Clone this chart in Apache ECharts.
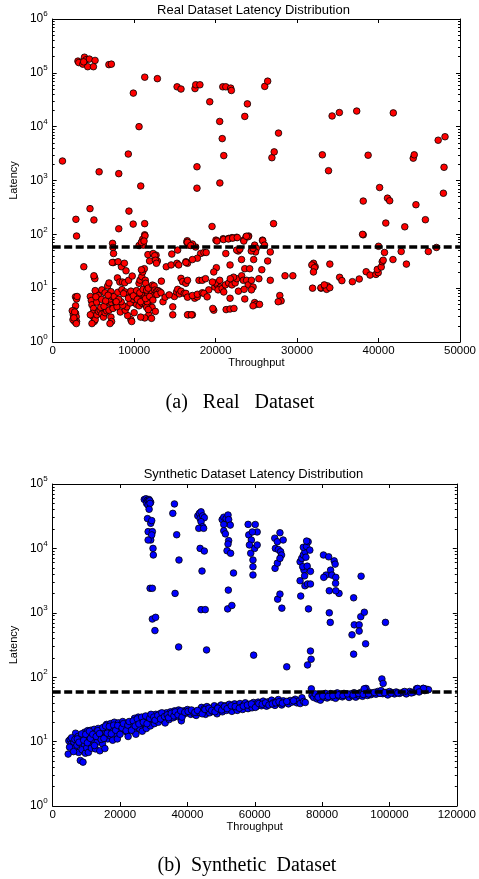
<!DOCTYPE html>
<html>
<head>
<meta charset="utf-8">
<script src="https://cdn.jsdelivr.net/npm/echarts@6/dist/echarts.min.js"></script>
<style>
html,body{margin:0;padding:0;background:#fff;}
#chart{width:479px;height:879px;}
</style>
</head>
<body>
<div id="chart"></div>
<script>
// ---------- Data (Throughput, Latency) ----------
const realHigh = [[3100,165000],[3200,155000],[3700,145000],[3900,195000],[4100,175000],[4300,130000],[4500,180000],[5000,130000],[5200,170000],[3800,160000],[6900,142000],[7200,145000],[9900,42000],[11300,83000],[12850,78000],[15270,55000],[15750,50000],[17470,51000],[17560,60000],[18070,60000],[19280,29000],[20880,55000],[21250,55000],[21850,52000],[21930,47000],[23900,26500],[26030,56000],[26390,70000],[20500,12500],[23580,15500],[34300,15800],[35190,18300],[37320,19500],[41810,18000]];
const realMid = [[1200,2300],[10600,10000],[9280,3100],[5700,1450],[8110,1340],[10810,790],[2850,190],[4580,300],[5060,185],[8110,127],[9360,270],[9880,155],[11290,158],[11290,98],[17710,1800],[17710,720],[20810,6000],[21000,2900],[20520,900],[19560,140],[26910,2650],[27190,3400],[27720,7600],[27110,158],[33100,3000],[33860,1520],[38720,2950],[38120,415],[40130,740],[41100,470],[41370,420],[40890,162],[38120,98],[43220,138],[44260,2600],[44380,3000],[44590,355],[45750,187],[47320,5600],[48160,6500],[48040,1760],[47960,580],[16510,76],[20040,78],[20930,83],[21600,84],[22010,87],[22570,88],[23460,78],[23740,91],[24060,93],[25750,78],[11050,81]];
const realLowLeft = [[2930,93],[3820,25],[7350,68],[7390,57],[7470,44],[7470,30],[7310,30],[5100,16],[5180,15],[5060,17],[2800,6.9],[2930,6.3],[2810,4.7],[2570,3.8],[2810,3.4],[2530,3.2],[2890,2.95],[2930,2.4],[2690,2.4],[2490,2.6],[2400,3.8],[2700,3.6],[2600,2.8],[2900,2.2],[3000,7.0],[4620,7.0],[4740,5.9],[4820,4.9],[5020,4.2],[4900,3.4],[4900,3.0],[5100,2.8],[5100,2.4],[5220,2.6],[4620,3.2],[4820,2.2],[5420,3.2],[5620,3.7],[5820,3.9],[6030,3.3],[6230,2.9],[6430,3.5],[6630,3.8],[6910,3.9],[7150,2.9],[7230,2.4],[7030,2.2],[5400,5.5],[5900,4.4],[6300,4.6],[7030,5.2],[7230,5.4],[7710,5.6],[5420,8],[5220,9],[5620,7.3],[6030,9.3],[6430,8.2],[6750,11],[6910,12.5],[7150,8.6],[7030,6.3],[7310,7],[7550,7],[7950,15.5],[8240,13],[8560,13],[8840,12.6],[9320,14],[9760,16.8],[8440,25],[8030,31],[8800,29],[9000,21],[6000,6.2],[6500,5.8],[7400,4.2],[7900,4.5],[8300,3.6],[5300,6.9],[6800,7.4],[8000,8.4],[8500,9.4]];
const realLowMid = [[8900,8.5],[9200,7.7],[9400,6.6],[9700,5.8],[10000,5.4],[10300,5.0],[10600,4.7],[10900,7.7],[11200,5.8],[11500,6.6],[11700,7.7],[12100,8.5],[12400,7.3],[12200,4.4],[12600,3.7],[11800,3.2],[11300,2.8],[10800,2.9],[10000,3.5],[9600,2.6],[9700,2.4],[9200,3.1],[8900,3.9],[9100,4.5],[9500,5.3],[9900,6.2],[10200,6.7],[10500,7.3],[10700,6.0],[11000,5.2],[11400,4.9],[11700,5.4],[12000,6.0],[8600,4.8],[8400,5.6],[8100,6.2],[7800,5.6],[8700,7.9],[9600,8.8],[10300,9.0],[10700,8.2],[11100,9.5],[10600,12.3],[10720,14.1],[10930,16.4],[11050,20],[11250,23],[10890,22],[11130,63],[11330,94],[10600,62],[10890,71],[11210,75],[11890,32],[11690,42],[12690,41],[12850,32],[11370,14],[11410,12.3],[11530,9.2],[11730,10],[11330,5.2],[11530,4.4],[11730,4.0],[11600,5.6],[12130,2.75],[12250,11.4],[12450,11],[12330,44],[12530,40],[12610,33],[12730,29],[12530,9.2],[12730,8.6],[12930,9.0],[13130,8.6],[13340,13.5],[13540,5.6],[13940,25],[14540,27],[14620,43],[14740,4.5],[14740,3.2],[14940,7],[15200,8.5],[15340,9.5],[15550,7.8],[15750,8.8],[15340,51],[15260,29],[15470,27],[15750,15.2],[15950,13.2],[16350,12.3],[16550,14],[16150,8],[16470,71],[16670,63],[16350,31],[16550,29],[16670,3.2],[17150,3.2],[17430,6.5],[17750,6.9],[17550,58],[17150,66],[9300,6.5],[9900,7.2],[10400,6.2],[10800,5.6],[11400,6.4],[11900,7.0],[12300,6.0],[12800,7.6],[13300,8.2],[13800,6.8],[14300,7.5]];
const realLowRight = [[16550,71],[16950,62],[20170,75],[20970,80],[21570,82],[22100,85],[22660,87],[23460,75],[23980,90],[23780,92],[25790,76],[26000,63],[24790,63],[25000,55],[24900,47],[26710,47],[26390,32],[25670,22],[24670,34],[24380,49],[24590,55],[22780,49],[22580,51],[22980,53],[23180,34],[23580,23],[24180,23],[21250,44],[21770,27],[20090,24],[19770,20],[18160,44],[18560,46],[17760,36],[17150,34],[16350,30],[18840,46],[16350,8],[16550,6.8],[17150,7.3],[17760,7.7],[18360,8.2],[17960,14],[18360,14],[18760,15],[19160,9.3],[18560,8],[18960,6.9],[19900,10.5],[20200,11.5],[20600,10.5],[20300,9.3],[20800,9.8],[21200,11.5],[21600,12.5],[22000,11.5],[22400,12.5],[22600,15],[22200,16],[21800,15],[23200,17],[23400,14],[23800,14],[24000,11.5],[24400,14],[24600,10.5],[24400,9.3],[20000,12.5],[21000,8.5],[22800,8.8],[23500,9.5],[19600,13],[20500,14],[26710,14],[25310,15],[28520,17],[29480,17],[32020,29],[32220,25],[31900,10],[32940,10],[27880,7.3],[28040,5.8],[27680,5.6],[24790,5.4],[24990,5.0],[25390,5.0],[24590,4.7],[21770,6.5],[23580,6.3],[21290,4.0],[21770,4.1],[22250,4.2],[19770,3.9],[19650,4.2],[16550,3.2],[17030,3.2],[38040,100],[31810,27],[32130,24],[32010,20],[32930,10.2],[33420,10.6],[33740,11],[33620,9.5],[34020,10.2],[33340,11.5],[34020,28],[35220,15.9],[35500,13.8],[36790,13.2],[37630,14.8],[38480,20.2],[38960,17.5],[39680,18],[39960,19.4],[39850,22.3],[40330,24.7],[40450,31],[40570,33],[40730,46],[40000,60],[41770,34],[42780,48],[43420,28],[46110,48],[47110,57]];

const synHigh = [[27200,57500],[27700,59000],[28100,56000],[28600,57500],[29100,52000],[27900,50000],[28400,54000],[28800,55000],[28300,47000],[28900,50000],[28630,40500],[28150,29000],[29110,24500],[29400,27000],[28340,18200],[29600,18200],[29110,13500],[29400,16200],[28340,13500],[29790,10000],[29880,7900],[28920,2400],[29590,2400],[29590,800],[30560,850],[30360,530],[35670,35000],[36150,49000],[36820,16300],[37500,6600],[36340,2000],[37400,295],[43090,32000],[43570,35000],[44050,37000],[43770,29000],[44530,32000],[45020,30000],[44050,26000],[44530,21700],[43380,20500],[44820,20500],[43770,10000],[45020,9100],[44340,4450],[44050,1120],[45300,1120],[45690,265],[50320,28000],[50800,30500],[51480,29000],[52060,33000],[52250,28000],[52730,23000],[50800,23500],[50800,18800],[51280,16800],[52250,13200],[52060,11700],[51770,9200],[52830,8400],[53690,4150],[52150,2250],[51960,1150],[53210,1300]];
const synHigh2 = [[58030,23600],[58220,16200],[58990,13500],[58800,8400],[59470,6600],[59470,5200],[59470,3870],[60150,23500],[60720,18000],[59960,10000],[60720,11300],[59280,18000],[58410,11300],[59670,220],[65940,14400],[66710,12700],[67480,17500],[66130,10000],[67000,9600],[67670,8900],[67960,7900],[68440,13500],[66030,4900],[66710,5900],[67480,7000],[66800,1630],[67480,1950],[68050,1180],[69500,145],[73460,6200],[73940,7000],[74420,7900],[74900,8900],[74420,10400],[75380,10700],[75860,12700],[76350,9400],[75190,7300],[74610,4600],[74230,5200],[75570,5300],[76540,4400],[73650,1820],[75960,1150],[73460,3150],[74900,2630],[75670,2800],[76540,2800],[76540,255],[76730,190],[75670,155],[74800,3750],[75400,13000],[80400,7900],[81940,7400],[83580,6400],[83870,5700],[82520,4600],[81170,3850],[82900,3850],[84060,3550],[84000,2870],[82130,2200],[85020,2000],[84060,2200],[80490,3550],[82130,1000],[82420,710],[91580,3700],[89360,1710],[89550,650],[91000,650],[91480,870],[92540,1020],[91000,520],[88880,455],[98810,710],[92920,330],[89360,228],[97750,94],[98130,80],[93030,67]];
const synBand = [[4600,6.4],[4800,10.3],[5200,10.8],[5500,9.2],[5800,8.5],[6000,11],[6300,9.8],[6500,7.9],[6800,13.5],[7000,10.5],[7200,8.8],[7500,12],[7700,6.8],[8000,9.5],[8200,5.1],[8400,11.5],[8700,7.5],[9000,4.8],[9100,12.8],[9300,9.2],[9500,14],[9700,6.6],[10000,11],[10100,8],[10400,14.8],[10600,6.8],[10800,12.2],[11000,9.5],[11300,15],[11500,7.9],[11700,13.5],[12000,10.6],[12300,15.5],[12500,12.4],[12700,7.7],[13000,14.2],[13200,9.8],[13500,16],[13700,11.8],[14000,7.2],[14200,13],[14500,15.2],[14800,9.2],[15000,12.6],[15300,16.8],[15500,7.8],[15800,14],[16000,18.5],[16300,11],[16600,15.5],[16900,12.5],[17200,19],[17500,16.2],[17800,10.5],[18000,14.8],[18300,20],[18600,17],[18900,13],[19200,11],[19500,19.5],[19800,16.5],[20100,14.5],[20400,18.5],[20800,20.5],[21200,15.5],[21600,17.8],[22000,14],[22400,12],[22800,16.5],[23200,20],[23600,18],[24000,14.5],[24300,23],[24700,13],[25000,19.5],[25400,24],[25800,16],[26200,21],[26600,14.5],[27000,23],[27400,18.5],[27800,16],[28200,24.5],[28600,21],[29000,17.5],[29400,25.5],[29800,22],[30200,19],[30600,26.5],[31000,23.5],[31400,20],[31800,27],[32200,24],[32600,22],[33000,26],[33400,19.5],[33800,28],[34200,25],[34600,22],[35000,29],[35400,26],[35800,23.5],[36200,30],[36600,27],[37000,24.5],[37400,31],[37800,28],[38200,21],[38600,26],[39000,30],[39500,27.5],[40000,31.5],[40500,28.5],[41000,26.5],[41500,30],[42000,27],[42600,25.5],[43200,28.5],[43800,31],[44200,34],[44600,29],[45000,32.5],[45400,26.5],[45800,35],[46200,30.5],[46600,28],[47000,33],[47500,29.5],[48000,36],[48400,31],[48800,27],[49200,34.5],[49600,31.5],[50000,37],[50400,29],[50800,33.5],[51200,36],[51600,30.5],[52000,34],[52400,38],[52800,32],[53200,29.5],[53600,35.5],[54000,38.5],[54400,33],[54800,30.5],[55200,36.5],[55600,39],[56000,34],[56400,31.5],[56800,37.5],[57200,40],[57600,35],[58000,32.5],[58400,38],[58800,36],[59200,33.5],[59600,40.5],[60000,37.5],[60500,35],[61000,41],[61500,38],[62000,36],[62500,42.5],[63000,39],[63500,35.5],[64000,41.5],[64500,38.5],[65000,44],[65500,40],[66000,36.5],[66500,42],[67000,45],[67500,39],[68000,37],[68500,43],[69000,40.5],[70000,38.5],[70500,43.5],[71000,41],[72000,45.5],[72500,40],[73000,42.5],[73500,39],[74000,48],[74500,42],[75000,40.5],[76800,66],[77000,52],[77500,48.5],[78000,55],[78500,46],[79000,51],[79500,44],[80000,54],[80500,49],[81000,56],[81500,47.5],[82000,52.5],[82500,55.5],[83000,49],[83500,53.5],[84000,47],[84500,57],[85000,51],[85500,54.5],[86000,49.5],[86500,56],[87000,52],[88000,48.5],[88500,55],[89000,51.5],[89500,57.5],[90000,49],[90500,54],[91000,52],[91500,58],[92000,50.5],[92500,66],[93000,55],[93500,52],[94000,58.5],[94500,53.5],[95000,56.5],[96000,54.5],[96500,60],[97000,57],[97500,62],[98000,55.5],[99000,58],[99500,53],[100000,60],[101000,57.5],[101500,55],[102000,59],[103000,56],[104000,58.5],[105000,55],[106000,60],[107000,58],[108000,66],[108500,61],[109000,63.5],[110000,67],[110500,62],[111000,65],[111600,64],[108350,67],[110090,67]];
const synBand2 = [[5000,8.2],[5600,11.5],[6200,7],[6600,10.8],[7300,11],[7800,9.8],[8600,13.2],[9200,10.5],[9800,13],[10300,9.6],[10900,14.5],[11200,11.2],[11900,13],[12400,8.7],[12900,12],[13400,14.8],[13900,13.3],[14400,10.8],[14900,16.5],[15200,11.2],[15700,17.5],[16200,13.5],[16800,17.2],[17400,13.2],[18100,18],[18700,15],[19300,17.8],[20000,13],[20600,16.3],[21000,19],[21800,14.8],[22300,18],[22700,20.5],[23400,15],[23900,21],[24500,17.5],[25100,22.5],[25600,18.8],[26400,24],[26900,20],[27600,25],[28000,19],[28800,23],[29200,26.5],[30000,24],[30400,21.5],[31200,25.5],[32000,22.5],[32400,28],[33200,24.5],[34000,26],[34400,23.5],[35200,27.5],[36000,25],[36400,29],[37200,26],[38000,30],[38400,24],[39200,28.5],[40200,29.5],[41200,31],[42200,28.5],[43000,30.5],[44400,27],[45200,31.5],[46400,33],[47200,30.5],[48200,29],[49000,33],[50200,31],[51000,35],[51800,32.5],[53000,36],[54200,35],[55400,33],[56600,35.5],[57800,37],[59000,38.5],[60200,34],[61200,39],[62200,38],[63200,40],[64200,37],[65200,38.5],[66200,40],[67200,41.5],[68200,39.5],[69500,42],[71500,43],[78800,49],[80200,51],[81800,50],[83200,51.5],[84800,53],[86200,52],[87500,55],[89200,53],[90800,56],[92200,54],[93800,55],[95500,58],[97200,56],[98500,57.5],[100500,56.5],[102500,57],[104500,60],[106500,57],[108800,59]];

const thresholdLatency = 60;
const realXTicks = {min: 0, max: 50000, interval: 10000};
const synXTicks = {min: 0, max: 120000, interval: 20000};
const realYDecades = 6;   // 10^0 .. 10^6
const synYDecades = 5;    // 10^0 .. 10^5
const titles = ['Real Dataset Latency Distribution', 'Synthetic Dataset Latency Distribution'];
const captions = ['(a)   Real   Dataset', '(b)  Synthetic  Dataset'];

// ---------- Chart ----------
const SANS = 'Liberation Sans';
const SERIF = 'Liberation Serif';

function minorExps(n) {
  const out = [];
  for (let d = 0; d < n; d++) for (let k = 2; k <= 9; k++) out.push(d + Math.log10(k));
  return out;
}

const grids = [
  {left: 46, top: 19, width: 415, height: 323},
  {left: 46, top: 484, width: 415, height: 322}
];

function xAxes(gi, t) {
  const base = {
    gridIndex: gi, type: 'value', min: t.min, max: t.max, interval: t.interval,
    splitLine: {show: false},
    axisLine: {show: true, onZero: false, lineStyle: {color: '#000', width: 1}},
    axisTick: {show: true, inside: true, length: 4, lineStyle: {color: '#000'}}
  };
  return [
    Object.assign({}, base, {
      position: 'bottom',
      name: 'Throughput', nameLocation: 'middle', nameGap: 14,
      nameTextStyle: {fontFamily: SANS, fontSize: 11, color: '#000'},
      axisLabel: {show: true, margin: 3, fontFamily: SANS, fontSize: 11.5, color: '#000',
                  formatter: function (v) { return String(v); }}
    }),
    Object.assign({}, base, {position: 'top', axisLabel: {show: false}})
  ];
}

function yAxes(gi, decades) {
  const maxV = Math.pow(10, decades);
  const logBase = {
    gridIndex: gi, type: 'log', logBase: 10, min: 1, max: maxV,
    splitLine: {show: false},
    axisLine: {show: true, onZero: false, lineStyle: {color: '#000', width: 1}},
    axisTick: {show: true, inside: true, length: 4, lineStyle: {color: '#000'}}
  };
  const minorBase = {
    gridIndex: gi, type: 'value', min: 0, max: decades,
    splitLine: {show: false}, axisLabel: {show: false},
    axisLine: {show: false, onZero: false},
    axisTick: {show: true, inside: true, length: 2, customValues: minorExps(decades), lineStyle: {color: '#000'}}
  };
  return [
    Object.assign({}, logBase, {
      position: 'left',
      name: 'Latency', nameLocation: 'middle', nameGap: 29,
      nameTextStyle: {fontFamily: SANS, fontSize: 11, color: '#000'},
      axisLabel: {
        show: true, margin: 5,
        formatter: function (v) { return '{b|10}{s|' + Math.round(Math.log10(v)) + '}'; },
        rich: {
          b: {fontFamily: SANS, fontSize: 12, lineHeight: 18, color: '#000', verticalAlign: 'middle'},
          s: {fontFamily: SANS, fontSize: 8, lineHeight: 8, color: '#000', verticalAlign: 'top'}
        }
      }
    }),
    Object.assign({}, logBase, {position: 'right', axisLabel: {show: false}}),
    Object.assign({}, minorBase, {position: 'left'}),
    Object.assign({}, minorBase, {position: 'right'})
  ];
}

function scatter(name, data, gi, color) {
  return {
    name: name, type: 'scatter', xAxisIndex: gi * 2, yAxisIndex: gi * 4,
    data: data, symbol: 'circle', symbolSize: 6.6,
    itemStyle: {color: color, borderColor: '#000', borderWidth: 0.8, opacity: 1},
    z: 3
  };
}

function threshold(gi) {
  return {
    type: 'scatter', xAxisIndex: gi * 2, yAxisIndex: gi * 4, data: [], z: 2,
    markLine: {
      silent: true, symbol: ['none', 'none'], label: {show: false},
      lineStyle: {color: '#000', type: [8, 3.5], width: 3.5},
      data: [{yAxis: thresholdLatency}]
    }
  };
}

const realData = [].concat(realHigh, realMid, realLowLeft, realLowMid, realLowRight);
const synData = [].concat(synHigh, synHigh2, synBand, synBand2);

const option = {
  animation: false,
  backgroundColor: '#fff',
  title: [
    {text: titles[0], left: 253.5, top: 4, textAlign: 'center', padding: 0,
     textStyle: {fontFamily: SANS, fontSize: 13, fontWeight: 'normal', color: '#000'}},
    {text: titles[1], left: 253.5, top: 468, textAlign: 'center', padding: 0,
     textStyle: {fontFamily: SANS, fontSize: 13, fontWeight: 'normal', color: '#000'}},
    {text: captions[0], left: 240, top: 393, textAlign: 'center', padding: 0,
     textStyle: {fontFamily: SERIF, fontSize: 20, fontWeight: 'normal', color: '#000'}},
    {text: captions[1], left: 247, top: 856, textAlign: 'center', padding: 0,
     textStyle: {fontFamily: SERIF, fontSize: 20, fontWeight: 'normal', color: '#000'}}
  ],
  grid: grids,
  xAxis: [].concat(xAxes(0, realXTicks), xAxes(1, synXTicks)),
  yAxis: [].concat(yAxes(0, realYDecades), yAxes(1, synYDecades)),
  series: [
    threshold(0),
    scatter('Real', realData, 0, '#ff0000'),
    threshold(1),
    scatter('Synthetic', synData, 1, '#0000ff')
  ]
};

const chart = echarts.init(document.getElementById('chart'), null, {renderer: 'canvas'});
chart.setOption(option);
</script>
</body>
</html>
